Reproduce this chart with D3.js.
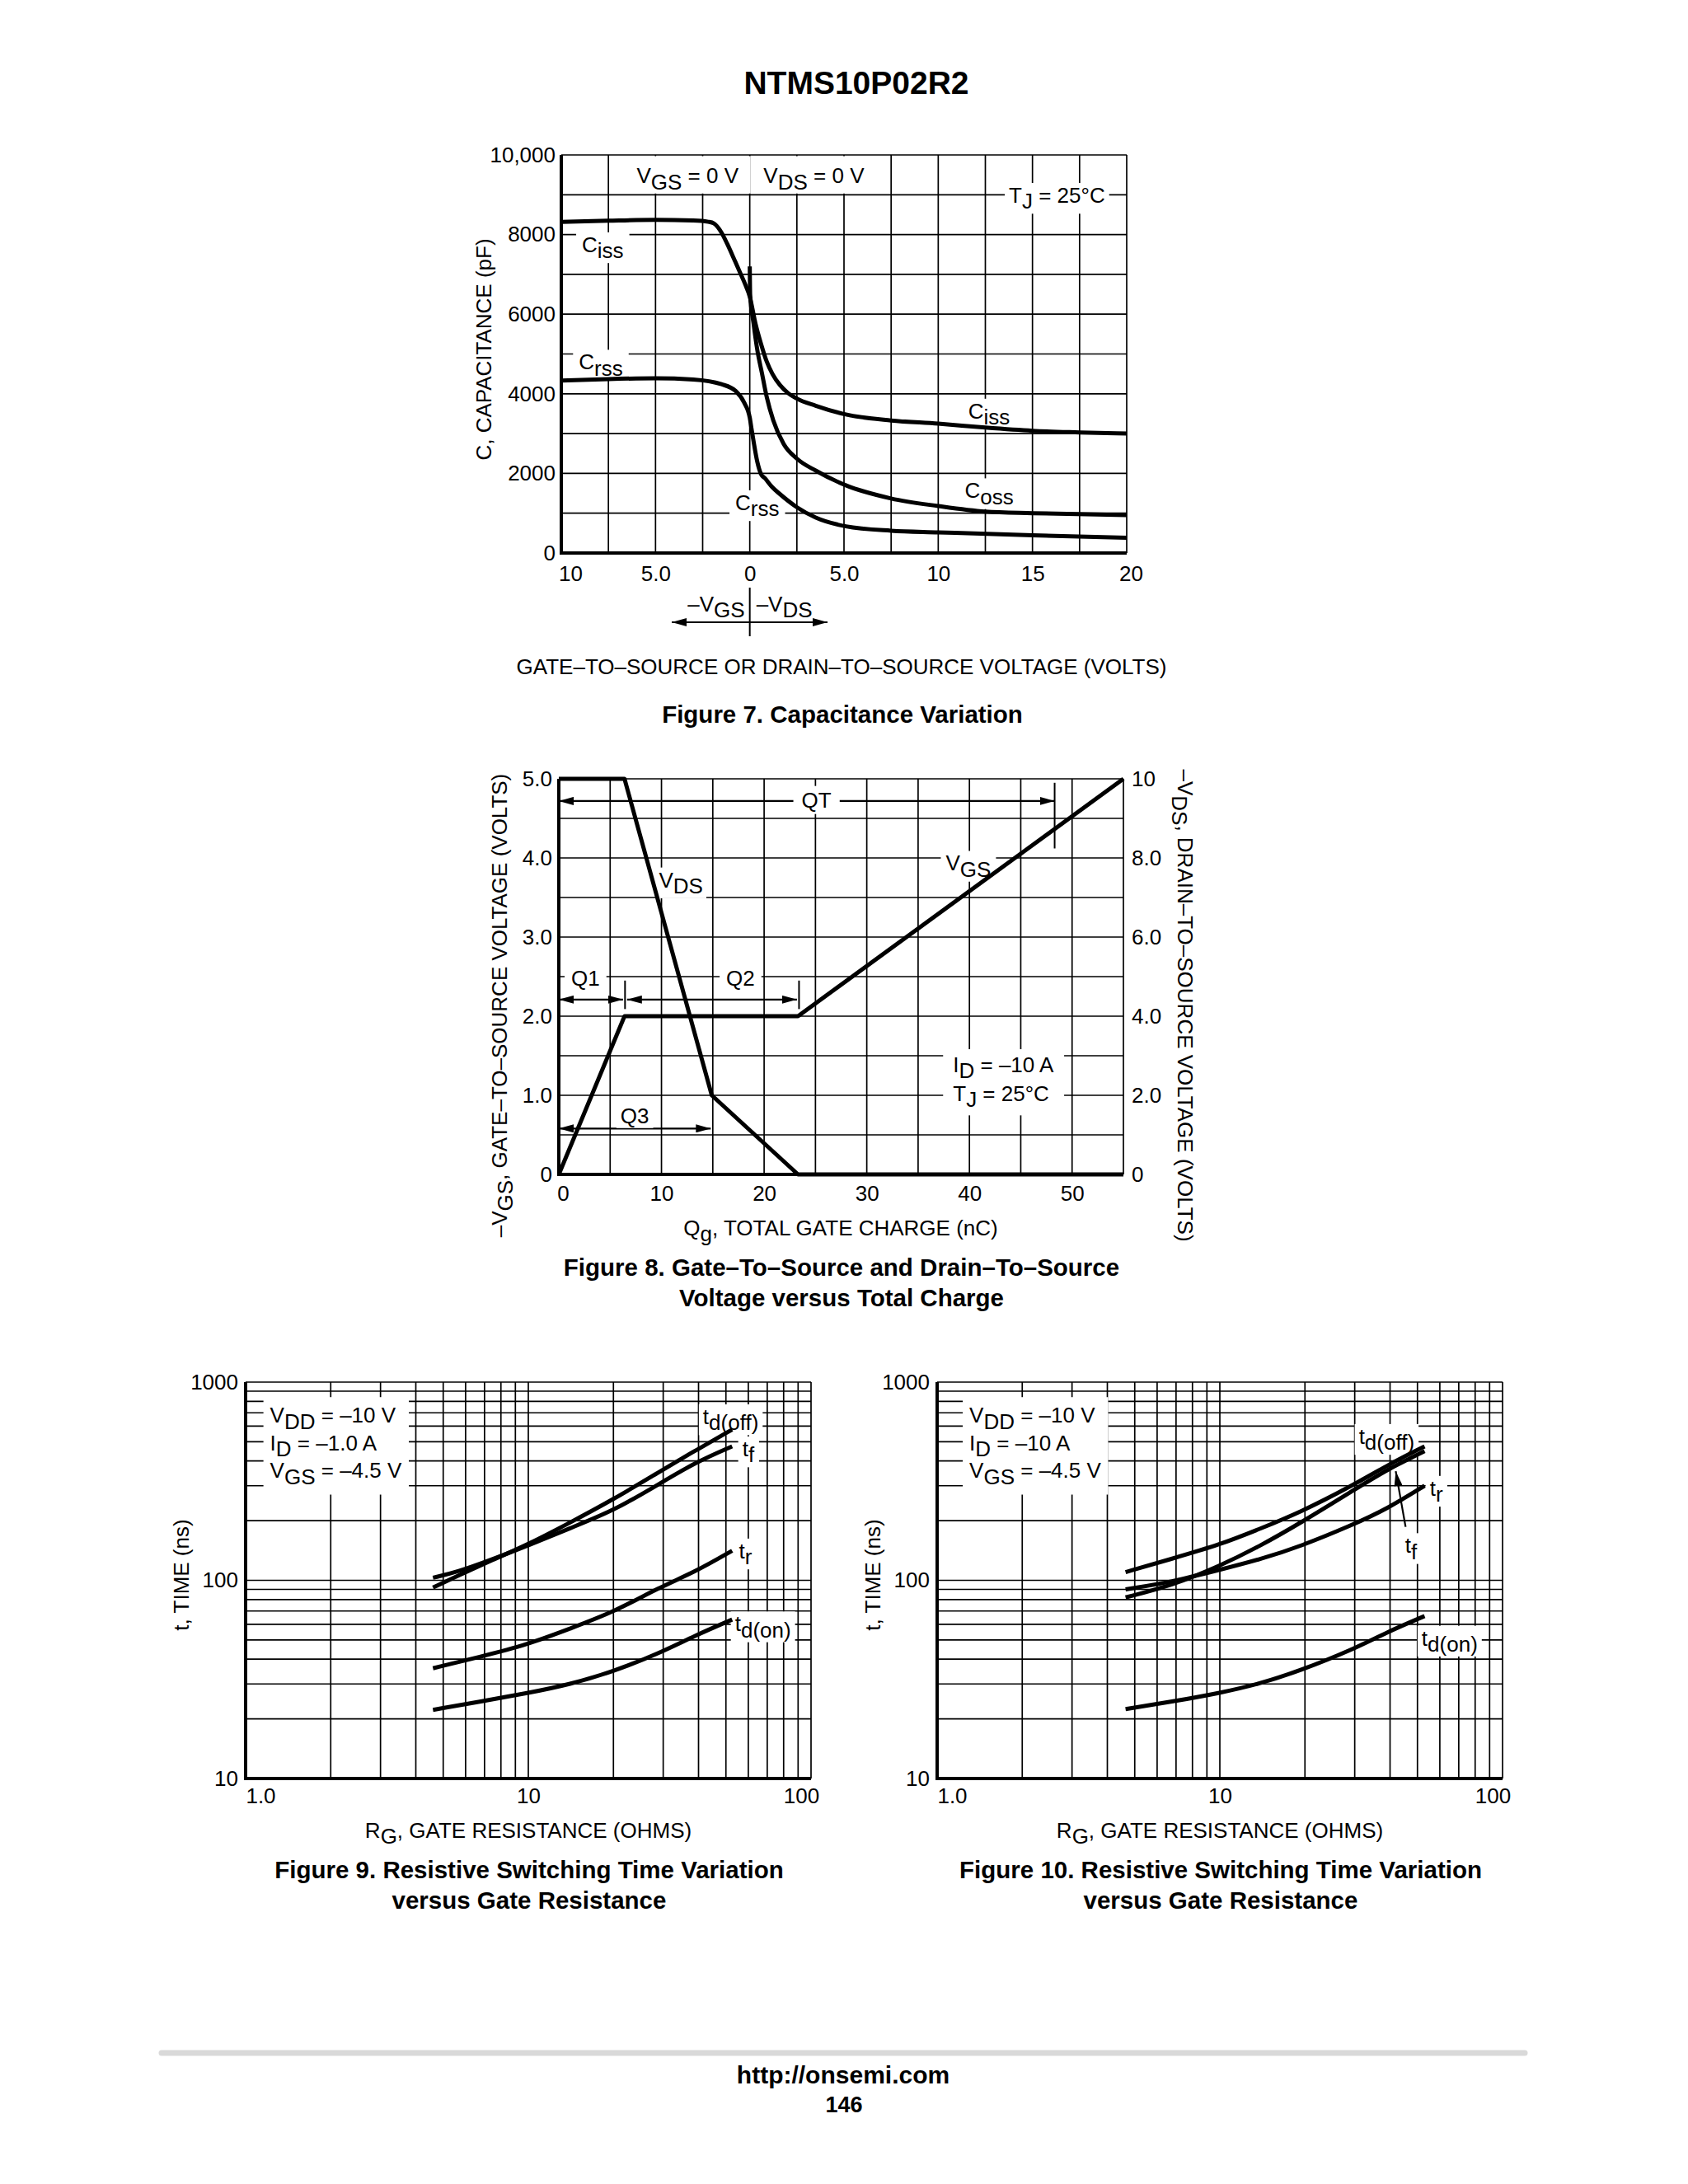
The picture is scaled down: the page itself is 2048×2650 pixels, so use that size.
<!DOCTYPE html>
<html>
<head>
<meta charset="utf-8">
<script src="https://cdn.jsdelivr.net/npm/d3@7/dist/d3.min.js"></script>
<style>
  body { margin: 0; background: #fff; }
  svg text { font-family: "Liberation Sans", Arial, Helvetica, sans-serif; fill: #000; white-space: pre; }
</style>
</head>
<body>
<svg id="page" width="2048" height="2650"></svg>
<script>
// Figure 7: capacitance (pF) vs voltage, negative x is the -VGS side
const fig7XTicks = [-10, -5, 0, 5, 10, 15, 20];
const fig7XLabels = ["10", "5.0", "0", "5.0", "10", "15", "20"];
const fig7YTicks = [0, 2000, 4000, 6000, 8000, 10000];
const fig7YLabels = ["0", "2000", "4000", "6000", "8000", "10,000"];
const cissCurve = [[-10, 8320], [-7.5, 8350], [-5, 8370], [-3, 8355], [-2.2, 8320], [-1.9, 8280],
  [-1.5, 8050], [-1.2, 7770], [-0.8, 7350], [-0.5, 7030], [-0.2, 6700], [0, 6440], [0.3, 5770],
  [0.6, 5250], [0.9, 4810], [1.2, 4500], [1.6, 4220], [2, 4030], [2.5, 3880], [3.5, 3700],
  [5.1, 3480], [7.5, 3330], [10, 3250], [12.5, 3150], [15, 3070], [17.5, 3030], [20, 3000]];
const cossCurve = [[0, 7200], [0.02, 6500], [0.2, 5770], [0.4, 5100], [0.65, 4510], [0.9, 3920],
  [1.25, 3330], [1.8, 2740], [2.5, 2370], [3.5, 2070], [5.1, 1700], [7.5, 1370], [10, 1180],
  [12.5, 1040], [15, 1000], [20, 950]];
const crssCurve = [[-10, 4330], [-7.5, 4370], [-5, 4390], [-3, 4360], [-1.5, 4240], [-0.75, 4070],
  [-0.3, 3780], [0, 3400], [0.1, 3100], [0.2, 2810], [0.4, 2290], [0.6, 1980], [0.8, 1880],
  [1.2, 1650], [1.6, 1480], [2.5, 1150], [3.5, 890], [5.1, 670], [7.5, 560], [10, 520],
  [15, 445], [20, 385]];

// Figure 8: gate charge
const fig8XTicks = [0, 10, 20, 30, 40, 50];
const fig8YLeftTicks = [0, 1, 2, 3, 4, 5];
const fig8YLeftLabels = ["0", "1.0", "2.0", "3.0", "4.0", "5.0"];
const fig8YRightTicks = [0, 2, 4, 6, 8, 10];
const fig8YRightLabels = ["0", "2.0", "4.0", "6.0", "8.0", "10"];
const vgsCharge = [[0, 0], [6.4, 2], [23.3, 2], [55, 5]];      // left axis
const vdsCharge = [[0, 10], [6.4, 10], [14.9, 2], [23.3, 0], [55, 0]]; // right axis

// Figures 9 and 10: switching time vs gate resistance
const rgTicks = [1, 10, 100];
const rgLabels = ["1.0", "10", "100"];
const timeTicks = [10, 100, 1000];
const timeLabels = ["10", "100", "1000"];
const fig9TdOff = [[4.6, 92], [5.6, 105], [7.4, 126], [10, 152], [14, 195], [20, 256], [29, 352], [38.8, 450], [52.6, 576]];
const fig9Tf = [[4.6, 103], [5.6, 110], [7.4, 127], [10, 150], [14, 183], [20, 224], [29, 306], [38.8, 392], [52.6, 474]];
const fig9Tr = [[4.6, 36], [6.7, 41], [10, 47.5], [14, 57], [20, 69], [29, 92], [38.8, 110], [52.6, 141]];
const fig9TdOn = [[4.6, 22.2], [6.7, 24.4], [10, 27], [14, 29.8], [20, 34.7], [29, 42.8], [38.8, 52.6], [52.6, 63.4]];
const fig10TdOff = [[4.64, 110], [6.7, 128], [10, 151], [14, 183], [19.2, 220], [29.4, 300], [39, 380], [53, 474]];
const fig10Tf = [[4.64, 82], [6.75, 94], [10, 118], [14, 150], [19.2, 194], [29.4, 282], [39, 362], [53, 449]];
const fig10Tr = [[4.64, 90], [6.75, 98], [10, 113], [14, 128], [19.2, 148], [29.4, 190], [39, 229], [53, 300]];
const fig10TdOn = [[4.64, 22.4], [6.75, 24.4], [10, 27], [13.8, 30], [19.2, 35], [29.4, 44.6], [39, 54.8], [53, 66]];
const fig9Conditions = ["V_{DD} = \u201310 V", "I_{D} = \u20131.0 A", "V_{GS} = \u20134.5 V"];
const fig10Conditions = ["V_{DD} = \u201310 V", "I_{D} = \u201310 A", "V_{GS} = \u20134.5 V"];

const svg = d3.select("#page");
svg.append("rect").attr("width", 2048).attr("height", 2650).attr("fill", "#fff");

const defs = svg.append("defs");
defs.append("marker").attr("id", "head")
  .attr("viewBox", "0 0 18 10").attr("refX", 18).attr("refY", 5)
  .attr("markerWidth", 18).attr("markerHeight", 10)
  .attr("markerUnits", "userSpaceOnUse").attr("orient", "auto-start-reverse")
  .append("path").attr("d", "M0,0 L18,5 L0,10 Z").attr("fill", "#000");

// text with _{subscript} parts (subscripts are full size, dropped)
function rich(t, str, fs) {
  const parts = str.split(/(_\{[^}]*\})/).filter((s) => s.length);
  const drop = fs * 0.28;
  let down = false;
  parts.forEach((p) => {
    if (p.startsWith("_{")) {
      t.append("tspan").attr("dy", drop).text(p.slice(2, -1));
      down = true;
    } else {
      const ts = t.append("tspan").text(p);
      if (down) { ts.attr("dy", -drop); down = false; }
    }
  });
}

function addText(g, x, y, str, o = {}) {
  const fs = o.size || 26;
  const t = g.append("text").attr("x", x).attr("y", y)
    .attr("font-size", fs)
    .attr("font-weight", o.weight || "normal")
    .attr("text-anchor", o.anchor || "middle");
  if (o.rotate) t.attr("transform", `rotate(${o.rotate},${x},${y})`);
  rich(t, str, fs);
  return t;
}

// label block on a white box, (x, y) = centre of the block
function tag(g, x, y, lines, o = {}) {
  const fs = o.size || 26, lh = o.lh || 33.5;
  const grp = g.append("g");
  const n = lines.length;
  lines.forEach((s, i) => {
    addText(grp, x, y + (i - (n - 1) / 2) * lh + fs * 0.3, s, { size: fs, anchor: o.anchor });
  });
  const b = grp.node().getBBox();
  const px = o.px != null ? o.px : 7, py = o.py != null ? o.py : 0;
  let y0 = b.y - py, y1 = b.y + b.height + py;
  if (o.band) { y0 = o.band[0]; y1 = o.band[1]; }
  grp.insert("rect", ":first-child")
    .attr("x", b.x - px).attr("y", y0)
    .attr("width", b.width + 2 * px).attr("height", y1 - y0)
    .attr("fill", "#fff");
  return grp;
}

function grid(g, x, y, xGrid, yGrid) {
  const [xa, xb] = x.range(), [ya, yb] = y.range();
  g.append("g").selectAll("line").data(xGrid).join("line")
    .attr("x1", (d) => x(d)).attr("x2", (d) => x(d)).attr("y1", ya).attr("y2", yb)
    .attr("stroke", "#000").attr("stroke-width", 1.7);
  g.append("g").selectAll("line").data(yGrid).join("line")
    .attr("y1", (d) => y(d)).attr("y2", (d) => y(d)).attr("x1", xa).attr("x2", xb)
    .attr("stroke", "#000").attr("stroke-width", 1.7);
}

function heavyAxes(g, x, y) {
  const [xa, xb] = x.range(), [ya, yb] = y.range();
  g.append("line").attr("x1", xa).attr("x2", xa).attr("y1", ya + 2).attr("y2", yb)
    .attr("stroke", "#000").attr("stroke-width", 4);
  g.append("line").attr("x1", xa).attr("x2", xb).attr("y1", ya).attr("y2", ya)
    .attr("stroke", "#000").attr("stroke-width", 4);
}

function curve(g, pts, x, y, type) {
  g.append("path").datum(pts)
    .attr("fill", "none").attr("stroke", "#000").attr("stroke-width", 5)
    .attr("stroke-linejoin", "round")
    .attr("d", d3.line().x((d) => x(d[0])).y((d) => y(d[1])).curve(type || d3.curveMonotoneX));
}

function styleTicks(a, shifts) {
  a.select(".domain").remove();
  a.selectAll("text").attr("font-size", 26).attr("fill", "#000")
    .attr("dx", (d, i) => (shifts && shifts[i]) || 0);
}

function bottomTicks(g, x, yPos, values, labels, pad, shifts) {
  const a = g.append("g").attr("transform", `translate(0,${yPos})`)
    .call(d3.axisBottom(x).tickValues(values).tickFormat((d, i) => labels[i]).tickSize(0).tickPadding(pad));
  styleTicks(a, shifts);
}

function sideTicks(g, y, xPos, values, labels, pad, right) {
  const ax = right ? d3.axisRight(y) : d3.axisLeft(y);
  const a = g.append("g").attr("transform", `translate(${xPos},0)`)
    .call(ax.tickValues(values).tickFormat((d, i) => labels[i]).tickSize(0).tickPadding(pad));
  styleTicks(a);
}

function arrow(g, x1, y1, x2, y2, both) {
  const l = g.append("line").attr("x1", x1).attr("y1", y1).attr("x2", x2).attr("y2", y2)
    .attr("stroke", "#000").attr("stroke-width", 2.2).attr("marker-end", "url(#head)");
  if (both) l.attr("marker-start", "url(#head)");
}

// page header
addText(svg, 1039, 114, "NTMS10P02R2", { size: 39, weight: "bold" });

// ---------------- Figure 7 ----------------
{
  const g = svg.append("g");
  const x = d3.scaleLinear().domain([-10, 20]).range([681, 1367]);
  const y = d3.scaleLinear().domain([0, 10000]).range([671, 188]);
  grid(g, x, y, d3.range(-10, 20.01, 2.5), d3.range(0, 10001, 1000));

  tag(g, x(-3.3), y(9450), ["V_{GS} = 0 V"], { px: 14, band: [y(10000) + 1.5, y(9000) - 1.5] });
  tag(g, x(3.4), y(9450), ["V_{DS} = 0 V"], { px: 14, band: [y(10000) + 1.5, y(9000) - 1.5] });
  tag(g, x(16.3), y(8960), ["T_{J} = 25\u00b0C"], { px: 5 });
  tag(g, x(-7.8), y(7720), ["C_{iss}"]);
  tag(g, x(-7.9), y(4770), ["C_{rss}"]);
  tag(g, x(12.7), y(3540), ["C_{iss}"]);
  tag(g, x(12.7), y(1540), ["C_{oss}"]);
  tag(g, x(0.4), y(1240), ["C_{rss}"]);

  curve(g, cissCurve, x, y);
  curve(g, cossCurve, x, y);
  curve(g, crssCurve, x, y);
  heavyAxes(g, x, y);

  bottomTicks(g, x, 671, fig7XTicks, fig7XLabels, 16, [11, 0, 0, 0, 0, 0, 5]);
  sideTicks(g, y, 681, fig7YTicks, fig7YLabels, 7);

  addText(g, 596, 424, "C, CAPACITANCE (pF)", { rotate: -90 });
  const x0 = x(0);
  g.append("line").attr("x1", x0).attr("x2", x0).attr("y1", 713).attr("y2", 772)
    .attr("stroke", "#000").attr("stroke-width", 2);
  addText(g, x0 - 6, 742, "\u2013V_{GS}", { anchor: "end" });
  addText(g, x0 + 8, 742, "\u2013V_{DS}", { anchor: "start" });
  arrow(g, x0, 755, 815, 755);
  arrow(g, x0, 755, 1004, 755);
  addText(g, 1021, 818, "GATE\u2013TO\u2013SOURCE OR DRAIN\u2013TO\u2013SOURCE VOLTAGE (VOLTS)");
  addText(g, 1022, 877, "Figure 7. Capacitance Variation", { size: 29.5, weight: "bold" });
}

// ---------------- Figure 8 ----------------
{
  const g = svg.append("g");
  const x = d3.scaleLinear().domain([0, 55]).range([678, 1363]);
  const yL = d3.scaleLinear().domain([0, 5]).range([1425, 945]);
  const yR = d3.scaleLinear().domain([0, 10]).range([1425, 945]);
  grid(g, x, yL, d3.range(0, 55.01, 5), d3.range(0, 5.01, 0.5));

  // charge intervals
  arrow(g, x(0), yL(4.72), x(48.3), yL(4.72), true);
  arrow(g, x(0), yL(2.21), x(6.25), yL(2.21), true);
  arrow(g, x(6.65), yL(2.21), x(23.2), yL(2.21), true);
  arrow(g, x(0), yL(0.58), x(14.8), yL(0.58), true);
  [[48.3, 4.12, 4.95], [6.45, 2.09, 2.45], [23.4, 2.09, 2.45]].forEach(([q, a, b]) => {
    g.append("line").attr("x1", x(q)).attr("x2", x(q)).attr("y1", yL(a)).attr("y2", yL(b))
      .attr("stroke", "#000").attr("stroke-width", 2);
  });

  tag(g, x(25.1), yL(4.72), ["QT"], { px: 10, py: 2 });
  tag(g, x(11.9), yL(3.71), ["V_{DS}"], { px: 4 });
  tag(g, x(39.9), yL(3.92), ["V_{GS}"], { px: 6 });
  tag(g, x(2.6), yL(2.47), ["Q1"], { px: 8 });
  tag(g, x(17.7), yL(2.47), ["Q2"], { px: 8 });
  tag(g, x(7.4), yL(0.73), ["Q3"], { px: 5 });
  tag(g, x(38.4), yL(1.19), ["I_{D} = \u201310 A", "T_{J} = 25\u00b0C"], { anchor: "start", lh: 35, px: 12, py: 4 });

  curve(g, vgsCharge, x, yL, d3.curveLinear);
  curve(g, vdsCharge, x, yR, d3.curveLinear);
  heavyAxes(g, x, yL);

  bottomTicks(g, x, 1425, fig8XTicks, fig8XTicks.map(String), 14, [5]);
  sideTicks(g, yL, 678, fig8YLeftTicks, fig8YLeftLabels, 8);
  sideTicks(g, yR, 1363, fig8YRightTicks, fig8YRightLabels, 10, true);

  addText(g, 615, 1220, "\u2013V_{GS}, GATE\u2013TO\u2013SOURCE VOLTAGE (VOLTS)", { rotate: -90 });
  addText(g, 1429, 1220, "\u2013V_{DS}, DRAIN\u2013TO\u2013SOURCE VOLTAGE (VOLTS)", { rotate: 90 });
  addText(g, 1020, 1499, "Q_{g}, TOTAL GATE CHARGE (nC)");
  addText(g, 1021, 1548, "Figure 8. Gate\u2013To\u2013Source and Drain\u2013To\u2013Source", { size: 29.5, weight: "bold" });
  addText(g, 1021, 1585, "Voltage versus Total Charge", { size: 29.5, weight: "bold" });
}

// ---------------- Figures 9 and 10 ----------------
function switchingPanel(left, right, cond, condX, series, tags, caption, arrowTf) {
  const g = svg.append("g");
  const x = d3.scaleLog().domain([1, 100]).range([left, right]);
  const y = d3.scaleLog().domain([10, 1000]).range([2158, 1677]);
  const decade = [1, 2, 3, 4, 5, 6, 7, 8, 9];
  const xs = [...decade, ...decade.map((d) => d * 10), 100];
  const ys = [...decade.map((d) => d * 10), ...decade.map((d) => d * 100), 1000];
  grid(g, x, y, xs, ys);

  tag(g, x(condX), y(488), cond, { anchor: "start", lh: 33.5, px: 8, py: 7 });
  tags.forEach(([s, a, b]) => tag(g, x(a), y(b), [s], { px: 5 }));
  if (arrowTf) arrow(g, x(arrowTf[0]), y(arrowTf[1]), x(arrowTf[2]), y(arrowTf[3]));

  series.forEach((s) => curve(g, s, x, y, d3.curveBasis));
  heavyAxes(g, x, y);

  bottomTicks(g, x, 2158, rgTicks, rgLabels, 12, [18, 0, -12]);
  sideTicks(g, y, left, timeTicks, timeLabels, 9);

  const cx = (left + right) / 2;
  addText(g, left - 69, 1911, "t, TIME (ns)", { rotate: -90 });
  addText(g, cx, 2230, "R_{G}, GATE RESISTANCE (OHMS)");
  addText(g, cx + 1, 2279, caption, { size: 29.5, weight: "bold" });
  addText(g, cx + 1, 2316, "versus Gate Resistance", { size: 29.5, weight: "bold" });
}

switchingPanel(298, 984, fig9Conditions, 1.22,
  [fig9TdOff, fig9Tf, fig9Tr, fig9TdOn],
  [["t_{d(off)}", 52, 661], ["t_{f}", 60, 455], ["t_{r}", 58.6, 139], ["t_{d(on)}", 67.6, 59.6]],
  "Figure 9. Resistive Switching Time Variation");

switchingPanel(1137, 1823, fig10Conditions, 1.30,
  [fig10TdOff, fig10Tf, fig10Tr, fig10TdOn],
  [["t_{d(off)}", 38.9, 526], ["t_{r}", 58.3, 288], ["t_{f}", 47.5, 148], ["t_{d(on)}", 65, 50.5]],
  "Figure 10. Resistive Switching Time Variation",
  [45.4, 186, 41.9, 355]);

// footer
svg.append("line").attr("x1", 196).attr("x2", 1850).attr("y1", 2491).attr("y2", 2491)
  .attr("stroke", "#d9d9d9").attr("stroke-width", 7).attr("stroke-linecap", "round");
addText(svg, 1023, 2528, "http://onsemi.com", { size: 30, weight: "bold" });
addText(svg, 1024, 2563, "146", { size: 27, weight: "bold" });
</script>
</body>
</html>
